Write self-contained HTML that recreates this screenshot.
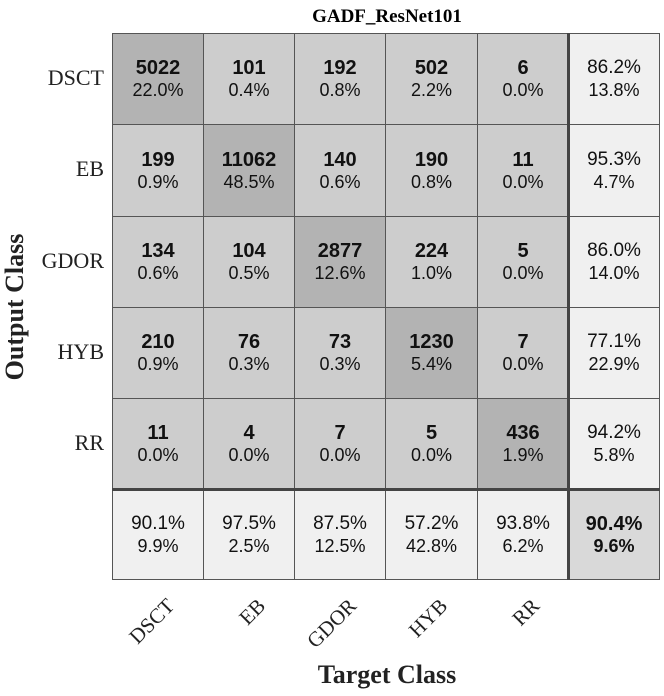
<!DOCTYPE html>
<html><head><style>
body{margin:0;background:#fff;width:664px;height:696px;overflow:hidden;position:relative;font-family:"Liberation Sans",sans-serif}
.c{position:absolute;box-sizing:border-box;border:1px solid #555;display:flex;flex-direction:column;align-items:center;justify-content:center;color:#111;line-height:22px}
.c b{font-size:20px}
.c span{font-size:18px}
.s{position:absolute;font-family:"Liberation Serif",serif;color:#222}
</style></head><body>
<div class="s" style="left:0;width:664px;top:6px;text-align:center;padding-left:110px;box-sizing:border-box;font-weight:bold;font-size:19px;color:#000">GADF_ResNet101</div>
<div id="g"></div>
<div class="s" style="left:0;width:664px;text-align:center;padding-left:110px;box-sizing:border-box;font-weight:bold;font-size:26px;color:#222;top:660px">Target Class</div>
<div class="s" style="left:-75px;top:292px;width:180px;text-align:center;transform:rotate(-90deg);font-weight:bold;font-size:26px">Output Class</div>
<script>
var d=[["5022","22.0%","101","0.4%","192","0.8%","502","2.2%","6","0.0%","86.2%","13.8%"],
["199","0.9%","11062","48.5%","140","0.6%","190","0.8%","11","0.0%","95.3%","4.7%"],
["134","0.6%","104","0.5%","2877","12.6%","224","1.0%","5","0.0%","86.0%","14.0%"],
["210","0.9%","76","0.3%","73","0.3%","1230","5.4%","7","0.0%","77.1%","22.9%"],
["11","0.0%","4","0.0%","7","0.0%","5","0.0%","436","1.9%","94.2%","5.8%"],
["90.1%","9.9%","97.5%","2.5%","87.5%","12.5%","57.2%","42.8%","93.8%","6.2%","90.4%","9.6%"]];
var xs=[112,203,294,385,477,568,659],ys=[33,124,216,307,398,489,579];
var L=["DSCT","EB","GDOR","HYB","RR"],h="";
for(var r=0;r<6;r++)for(var c=0;c<6;c++){
var bg=r==c?(r==5?"#d9d9d9":"#b3b3b3"):(r==5||c==5?"#f0f0f0":"#cdcdcd");
var a=d[r][2*c],b=d[r][2*c+1];
var t=(r<5&&c<5)||(r==5&&c==5)?"<b>"+a+"</b>"+(r==5?"<b style='font-size:18px'>"+b+"</b>":"<span>"+b+"</span>"):"<span style='font-size:19px'>"+a+"</span><span>"+b+"</span>";
h+='<div class="c" style="left:'+xs[c]+'px;top:'+ys[r]+'px;width:'+(xs[c+1]-xs[c]+1)+'px;height:'+(ys[r+1]-ys[r]+1)+'px;background:'+bg+'">'+t+'</div>';}
h+='<div style="position:absolute;left:567px;top:33px;width:3px;height:547px;background:#444"></div>';
h+='<div style="position:absolute;left:112px;top:488px;width:548px;height:3px;background:#444"></div>';
for(var i=0;i<5;i++){
h+='<div class="s" style="right:560px;top:'+(ys[i]+32)+'px;font-size:22px">'+L[i]+'</div>';
var cx=(xs[i]+xs[i+1])/2;
h+='<div class="s" style="left:'+(cx-67)+'px;top:590px;width:80px;text-align:right;font-size:21px;transform:rotate(-45deg);transform-origin:100% 50%">'+L[i]+'</div>';}
document.getElementById("g").innerHTML=h;
</script>
</body></html>
